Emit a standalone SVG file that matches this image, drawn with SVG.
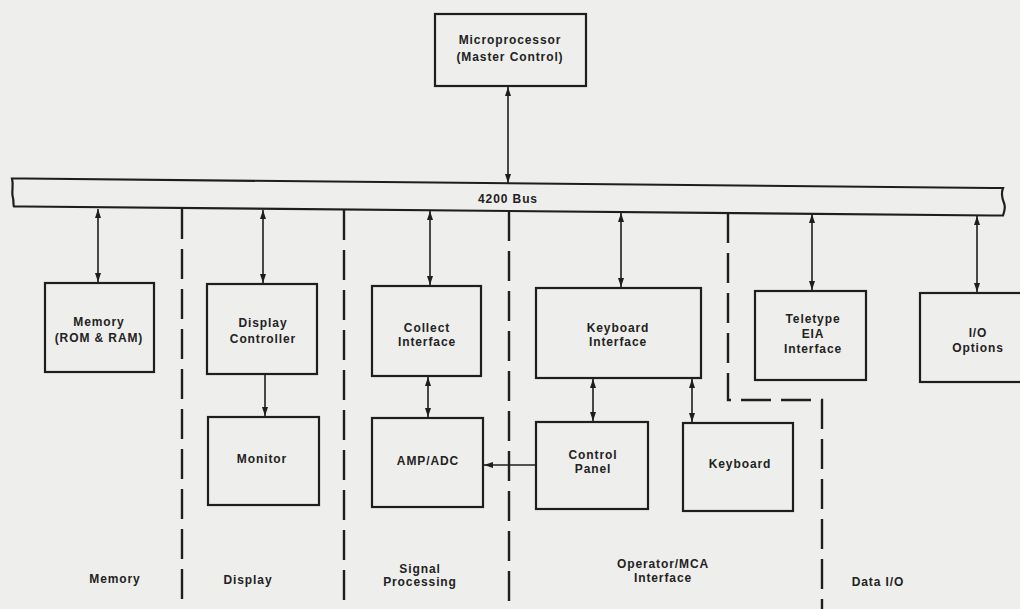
<svg xmlns="http://www.w3.org/2000/svg" width="1020" height="609" viewBox="0 0 1020 609">
<style>
.box{fill:none;stroke:#1e1e1e;stroke-width:2.2}
.ln{fill:none;stroke:#1e1e1e;stroke-width:1.6}
.dash{fill:none;stroke:#1e1e1e;stroke-width:2.4;stroke-dasharray:30 10}
text{font-family:"Liberation Sans",Arial,sans-serif;font-size:12px;font-weight:bold;fill:#222;text-anchor:middle;letter-spacing:0.9px}
</style>
<defs>
<marker id="ah" viewBox="0 0 9 6" refX="9" refY="3" markerWidth="9" markerHeight="6" orient="auto-start-reverse" markerUnits="userSpaceOnUse">
<path d="M0,0 L9,3 L0,6 z" fill="#1e1e1e"/>
</marker>
</defs>
<rect width="1020" height="609" fill="#eeeeec"/>

<g id="bus">
<path class="box" d="M24,178.5 L992,188 M24,206.5 L992,215.5"/>
<path class="box" d="M24,178.5 L12,178.5 C14,186 11,192 13,198 C14,202 13,205 14,206.5 L24,206.5"/>
<path class="box" d="M992,188 L1003,188 C1001,193 1002,198 1004,203 C1006,208 1004,212 1003,215.5 L992,215.5"/>
<text x="508" y="203">4200 Bus</text>
</g>

<g id="microprocessor">
<rect class="box" x="435" y="14" width="151" height="72"/>
<text x="510" y="44">Microprocessor</text>
<text x="510" y="61">(Master Control)</text>
</g>

<g id="memory">
<rect class="box" x="45" y="283" width="109" height="89"/>
<text x="99" y="326">Memory</text>
<text x="99" y="342">(ROM &amp; RAM)</text>
</g>

<g id="display-controller">
<rect class="box" x="207" y="284" width="110" height="90"/>
<text x="263" y="327">Display</text>
<text x="263" y="343">Controller</text>
</g>

<g id="collect-interface">
<rect class="box" x="372" y="286" width="109" height="90"/>
<text x="427" y="332">Collect</text>
<text x="427" y="346">Interface</text>
</g>

<g id="keyboard-interface">
<rect class="box" x="536" y="288" width="165" height="90"/>
<text x="618" y="332">Keyboard</text>
<text x="618" y="346">Interface</text>
</g>

<g id="teletype">
<rect class="box" x="755" y="291" width="111" height="89"/>
<text x="813" y="323">Teletype</text>
<text x="813" y="338">EIA</text>
<text x="813" y="353">Interface</text>
</g>

<g id="io-options">
<rect class="box" x="920" y="293" width="116" height="89"/>
<text x="978" y="337">I/O</text>
<text x="978" y="352">Options</text>
</g>

<g id="monitor">
<rect class="box" x="208" y="417" width="111" height="88"/>
<text x="262" y="463">Monitor</text>
</g>

<g id="amp-adc">
<rect class="box" x="372" y="418" width="111" height="89"/>
<text x="428" y="465">AMP/ADC</text>
</g>

<g id="control-panel">
<rect class="box" x="536" y="422" width="112" height="87"/>
<text x="593" y="459">Control</text>
<text x="593" y="473">Panel</text>
</g>

<g id="keyboard">
<rect class="box" x="683" y="423" width="110" height="88"/>
<text x="740" y="468">Keyboard</text>
</g>

<g id="connectors">
<line class="ln" x1="508" y1="87" x2="508" y2="183" marker-start="url(#ah)" marker-end="url(#ah)"/>
<line class="ln" x1="98" y1="209" x2="98" y2="282" marker-start="url(#ah)" marker-end="url(#ah)"/>
<line class="ln" x1="263" y1="210" x2="263" y2="283" marker-start="url(#ah)" marker-end="url(#ah)"/>
<line class="ln" x1="430" y1="211" x2="430" y2="285" marker-start="url(#ah)" marker-end="url(#ah)"/>
<line class="ln" x1="621" y1="213" x2="621" y2="287" marker-start="url(#ah)" marker-end="url(#ah)"/>
<line class="ln" x1="812" y1="214" x2="812" y2="290" marker-start="url(#ah)" marker-end="url(#ah)"/>
<line class="ln" x1="977" y1="216" x2="977" y2="292" marker-start="url(#ah)" marker-end="url(#ah)"/>
<line class="ln" x1="265" y1="375" x2="265" y2="416" marker-end="url(#ah)"/>
<line class="ln" x1="428" y1="377" x2="428" y2="417" marker-start="url(#ah)" marker-end="url(#ah)"/>
<line class="ln" x1="593" y1="379" x2="593" y2="421" marker-start="url(#ah)" marker-end="url(#ah)"/>
<line class="ln" x1="692" y1="379" x2="692" y2="422" marker-start="url(#ah)" marker-end="url(#ah)"/>
<line class="ln" x1="535" y1="465" x2="484" y2="465" marker-end="url(#ah)"/>
</g>

<g id="separators">
<line class="dash" x1="182" y1="209" x2="182" y2="609"/>
<line class="dash" x1="344" y1="210" x2="344" y2="609"/>
<line class="dash" x1="509" y1="211" x2="509" y2="609"/>
<path class="dash" d="M728,213 L728,400 L822,400 L822,609"/>
</g>

<g id="labels">
<text x="115" y="583">Memory</text>
<text x="248" y="584">Display</text>
<text x="420" y="573">Signal</text>
<text x="420" y="586">Processing</text>
<text x="663" y="568">Operator/MCA</text>
<text x="663" y="582">Interface</text>
<text x="878" y="586">Data I/O</text>
</g>
</svg>
